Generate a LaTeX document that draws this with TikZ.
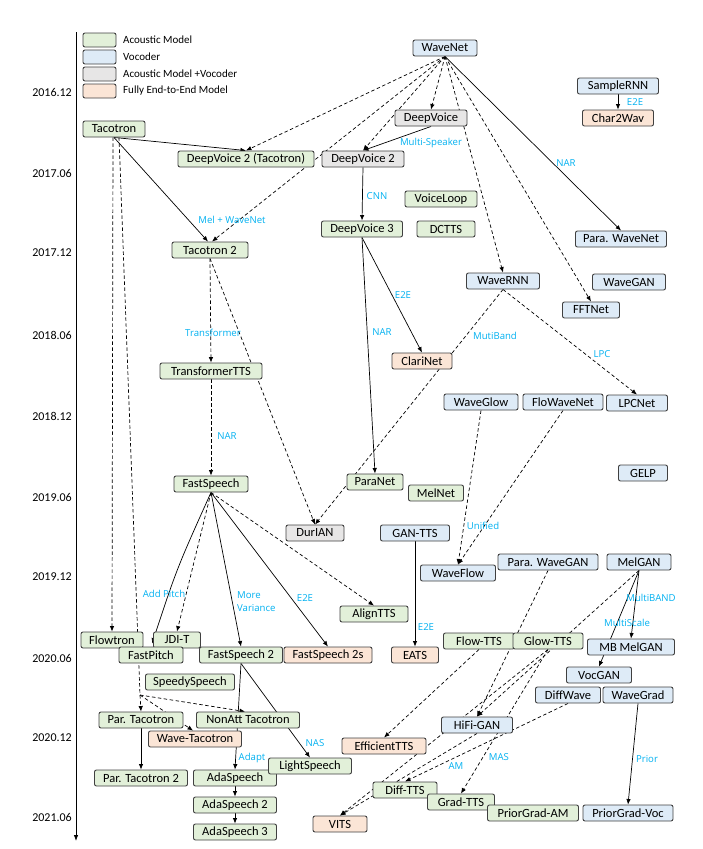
\documentclass[tikz,border=0pt]{standalone}
\usepackage{fontspec}
\setmainfont{Carlito}
\newfontfamily\lblfont{Open Sans}
\usetikzlibrary{arrows.meta,calc}
\pgfdeclarelayer{bg}
\pgfsetlayers{bg,main}
\definecolor{amC}{HTML}{E2F0D9}
\definecolor{vocC}{HTML}{DEEBF7}
\definecolor{bothC}{HTML}{E7E6E6}
\definecolor{e2eC}{HTML}{FBE5D6}
\definecolor{lblC}{HTML}{00B0F0}
\definecolor{bordC}{HTML}{404040}
\tikzset{
 box/.style={draw=bordC, line width=0.9pt, rounded corners=2pt, minimum height=16pt, inner sep=0pt, font=\fontsize{12.5}{13}\selectfont},
 am/.style={box, fill=amC},
 voc/.style={box, fill=vocC},
 both/.style={box, fill=bothC},
 e2e/.style={box, fill=e2eC},
 lbl/.style={text=lblC, font=\lblfont\fontsize{9.6}{13}\selectfont, inner sep=0pt},
 year/.style={anchor=east, font=\fontsize{12}{13}\selectfont, inner sep=0pt},
 leg/.style={anchor=west, font=\fontsize{11}{12}\selectfont, inner sep=0pt},
 sol/.style={line width=0.7pt, -{Latex[length=5.5pt,width=4.5pt]}},
 das/.style={sol, dash pattern=on 3.5pt off 2.5pt},
 dasplain/.style={line width=0.7pt, dash pattern=on 3.5pt off 2.5pt},
}
\begin{document}
\begin{tikzpicture}[x=1pt,y=-1pt]
\useasboundingbox (0,0) rectangle (703,849);
% axis
\coordinate (axtop) at (76,32);
\coordinate (axbot) at (76,841);
\draw[line width=0.8pt, -{Latex[length=6pt,width=4.5pt]}] (axtop) -- (axbot);
\node[year] (y1) at (72,92) {2016.12};
\node[year] (y2) at (72,173) {2017.06};
\node[year] (y3) at (72,253) {2017.12};
\node[year] (y4) at (72,335) {2018.06};
\node[year] (y5) at (72,416) {2018.12};
\node[year] (y6) at (72,497) {2019.06};
\node[year] (y7) at (72,577) {2019.12};
\node[year] (y8) at (72,658) {2020.06};
\node[year] (y9) at (72,738) {2020.12};
\node[year] (y10) at (72,817) {2021.06};
% legend
\node[am, minimum width=33pt, minimum height=14pt] (legam) at (99.5,40) {};
\node[voc, minimum width=33pt, minimum height=14pt] (legvoc) at (99.5,57) {};
\node[both, minimum width=33pt, minimum height=14pt] (legboth) at (99.5,74) {};
\node[e2e, minimum width=33pt, minimum height=14pt] (lege2e) at (99.5,91) {};
\node[leg] (legamt) at (123,40) {Acoustic Model};
\node[leg] (legvoct) at (123,57) {Vocoder};
\node[leg] (legboth) at (123,74) {Acoustic Model +Vocoder};
\node[leg] (lege2et) at (123,91) {Fully End-to-End Model};
% nodes
\node[voc, minimum width=64pt] (wavenet) at (445,48) {WaveNet};
\node[both, minimum width=72pt] (deepvoice) at (431,118) {DeepVoice};
\node[voc, minimum width=81pt] (samplernn) at (618,86) {SampleRNN};
\node[e2e, minimum width=71pt] (char2wav) at (618,118) {Char2Wav};
\node[am, minimum width=62pt] (tacotron) at (114,129) {Tacotron};
\node[am, minimum width=136pt] (dv2t) at (246,159) {DeepVoice 2 (Tacotron)};
\node[both, minimum width=82pt] (dv2) at (363,159) {DeepVoice 2};
\node[am, minimum width=72pt] (voiceloop) at (441,199) {VoiceLoop};
\node[am, minimum width=81pt] (dv3) at (362,229) {DeepVoice 3};
\node[am, minimum width=58pt] (dctts) at (446,229) {DCTTS};
\node[voc, minimum width=91pt] (parawavenet) at (621,239) {Para. WaveNet};
\node[am, minimum width=76pt] (tac2) at (210,250) {Tacotron 2};
\node[voc, minimum width=73pt] (wavernn) at (503,281) {WaveRNN};
\node[voc, minimum width=73pt] (wavegan) at (629,282) {WaveGAN};
\node[voc, minimum width=57pt] (fftnet) at (591,310) {FFTNet};
\node[e2e, minimum width=60pt] (clarinet) at (422,361) {ClariNet};
\node[am, minimum width=102pt] (transtts) at (211,371) {TransformerTTS};
\node[voc, minimum width=74pt] (waveglow) at (481,402) {WaveGlow};
\node[voc, minimum width=80pt] (flowavenet) at (563,402) {FloWaveNet};
\node[voc, minimum width=61pt] (lpcnet) at (637,403) {LPCNet};
\node[voc, minimum width=49pt] (gelp) at (643,473) {GELP};
\node[am, minimum width=56pt] (paranet) at (375,482) {ParaNet};
\node[am, minimum width=74pt] (fastspeech) at (211,484) {FastSpeech};
\node[am, minimum width=55pt] (melnet) at (436,493) {MelNet};
\node[both, minimum width=58pt] (durian) at (315,533) {DurIAN};
\node[voc, minimum width=69pt] (gantts) at (415,533) {GAN-TTS};
\node[voc, minimum width=100pt] (parawavegan) at (548,562) {Para. WaveGAN};
\node[voc, minimum width=64pt] (melgan) at (639,562) {MelGAN};
\node[voc, minimum width=75pt] (waveflow) at (458,573) {WaveFlow};
\node[am, minimum width=68pt] (aligntts) at (374,614) {AlignTTS};
\node[am, minimum width=62pt] (flowtron) at (112,640) {Flowtron};
\node[am, minimum width=47pt] (jdit) at (177,640) {JDI-T};
\node[am, minimum width=71pt] (flowtts) at (479,641) {Flow-TTS};
\node[am, minimum width=70pt] (glowtts) at (548,641) {Glow-TTS};
\node[voc, minimum width=87pt] (mbmelgan) at (631,647) {MB MelGAN};
\node[am, minimum width=64pt] (fastpitch) at (151,655) {FastPitch};
\node[am, minimum width=83pt] (fs2) at (241,655) {FastSpeech 2};
\node[e2e, minimum width=88pt] (fs2s) at (328,655) {FastSpeech 2s};
\node[e2e, minimum width=47pt] (eats) at (415,655) {EATS};
\node[voc, minimum width=65pt] (vocgan) at (599,675) {VocGAN};
\node[am, minimum width=89pt] (speedy) at (190,682) {SpeedySpeech};
\node[voc, minimum width=65pt] (diffwave) at (568,695) {DiffWave};
\node[voc, minimum width=70pt] (wavegrad) at (638,695) {WaveGrad};
\node[am, minimum width=84pt] (partac) at (141,720) {Par. Tacotron};
\node[am, minimum width=103pt] (nonatt) at (248,720) {NonAtt Tacotron};
\node[voc, minimum width=71pt] (hifigan) at (477,725) {HiFi-GAN};
\node[e2e, minimum width=93pt] (wavetac) at (195,739) {Wave-Tacotron};
\node[e2e, minimum width=84pt] (efftts) at (384,746) {EfficientTTS};
\node[am, minimum width=83pt] (adaspeech) at (235,778) {AdaSpeech};
\node[am, minimum width=83pt] (lightspeech) at (310,766) {LightSpeech};
\node[am, minimum width=93pt] (partac2) at (141,778) {Par. Tacotron 2};
\node[am, minimum width=64pt] (difftts) at (405,790) {Diff-TTS};
\node[am, minimum width=67pt] (gradtts) at (461,802) {Grad-TTS};
\node[am, minimum width=91pt] (priorgradam) at (533,813) {PriorGrad-AM};
\node[voc, minimum width=90pt] (priorgradvoc) at (628,813) {PriorGrad-Voc};
\node[am, minimum width=83pt] (adaspeech2) at (235,805) {AdaSpeech 2};
\node[am, minimum width=83pt] (adaspeech3) at (235,832) {AdaSpeech 3};
\node[e2e, minimum width=54pt] (vits) at (340,824) {VITS};
\coordinate (split) at (140,695);
% edges
\begin{pgfonlayer}{bg}
\draw[das] (wavenet.south) -- (dv2t.north);
\draw[das] (wavenet.south) -- ($(tac2.north)+(2,0)$);
\draw[das] (wavenet.south) -- (deepvoice.north);
\draw[das] (wavenet.south) -- (dv2.north);
\draw[das] (wavenet.south) -- (wavernn.north);
\draw[das] (wavenet.south) -- (fftnet.north);
\draw[sol] (wavenet.south) -- (parawavenet.north);
\draw[sol] (samplernn.south) -- (char2wav.north);
\draw[sol] (tacotron.south) -- (dv2t.north);
\draw[sol] (tacotron.south) -- ($(tac2.north)+(-2,0)$);
\draw[das] ($(tacotron.south)+(-1,0)$) -- (flowtron.north);
\draw[dasplain] ($(tacotron.south)+(5,0)$) -- (split);
\draw[das] (split) -- (partac.north);
\draw[das] (split) -- ($(nonatt.north)+(-3,0)$);
\draw[das] (split) -- ($(wavetac.north)+(-2,0)$);
\draw[sol] (deepvoice.south) -- (dv2.north);
\draw[sol] (dv2.south) -- (dv3.north);
\draw[sol] (dv3.south) -- (clarinet.north);
\draw[sol] (dv3.south) -- (paranet.north);
\draw[das] (wavernn.south) -- (durian.north);
\draw[das] (wavernn.south) -- (lpcnet.north);
\draw[das] (tac2.south) -- (transtts.north);
\draw[das] (tac2.south) -- (durian.north);
\draw[das] (transtts.south) -- (fastspeech.north);
\draw[sol] (fastspeech.south) .. controls (177,568) .. ($(fastpitch.north)+(1,-3)$);
\draw[das] (fastspeech.south) -- (jdit.north);
\draw[sol] (fastspeech.south) -- (fs2.north);
\draw[sol] (fastspeech.south) -- (fs2s.north);
\draw[das] (fastspeech.south) -- (aligntts.north);
\draw[sol] (fs2.south) -- (adaspeech.north);
\draw[sol] (fs2.south) -- (lightspeech.north);
\draw[sol] (partac.south) -- (partac2.north);
\draw[sol] (adaspeech.south) -- (adaspeech2.north);
\draw[sol] (adaspeech2.south) -- (adaspeech3.north);
\draw[das] (waveglow.south) -- (waveflow.north);
\draw[das] (flowavenet.south) -- (waveflow.north);
\draw[sol] (gantts.south) -- (eats.north);
\draw[das] (parawavegan.south) -- (hifigan.north);
\draw[das] (melgan.south) -- (hifigan.north);
\draw[sol] (melgan.south) -- (mbmelgan.north);
\draw[sol] (melgan.south) -- (vocgan.north);
\draw[sol] (wavegrad.south) -- (priorgradvoc.north);
\draw[das] (flowtts.south) -- (efftts.north);
\draw[das] (glowtts.south) -- (gradtts.north);
\draw[das] (glowtts.south) -- (vits.north);
\draw[das] (hifigan.south) -- (vits.north);
\draw[das] (diffwave.south) -- (difftts.north);
\end{pgfonlayer}
% labels
\node[lbl] (l1) at (635,102) {E2E};
\node[lbl] (l2) at (431,143) {Multi-Speaker};
\node[lbl] (l3) at (566,163) {NAR};
\node[lbl] (l4) at (377,196) {CNN};
\node[lbl] (l5) at (232,220) {Mel + WaveNet};
\node[lbl] (l6) at (403,295) {E2E};
\node[lbl] (l7) at (213,333) {Transformer};
\node[lbl] (l8) at (382,332) {NAR};
\node[lbl] (l9) at (495,336) {MutiBand};
\node[lbl] (l10) at (602,354) {LPC};
\node[lbl] (l11) at (227,436) {NAR};
\node[lbl] (l12) at (483,526) {Unified};
\node[lbl] (l13) at (164,594) {Add Pitch};
\node[lbl, anchor=west, align=left] (l14) at (237,601.5) {More\\Variance};
\node[lbl] (l15) at (305,598) {E2E};
\node[lbl] (l16) at (426,627) {E2E};
\node[lbl] (l17) at (651,598) {MultiBAND};
\node[lbl] (l18) at (627,623) {MultiScale};
\node[lbl] (l19) at (252,758) {Adapt};
\node[lbl] (l20) at (315,743) {NAS};
\node[lbl] (l21) at (456,766) {AM};
\node[lbl] (l22) at (499,757) {MAS};
\node[lbl] (l23) at (647,759) {Prior};
\end{tikzpicture}
\end{document}
